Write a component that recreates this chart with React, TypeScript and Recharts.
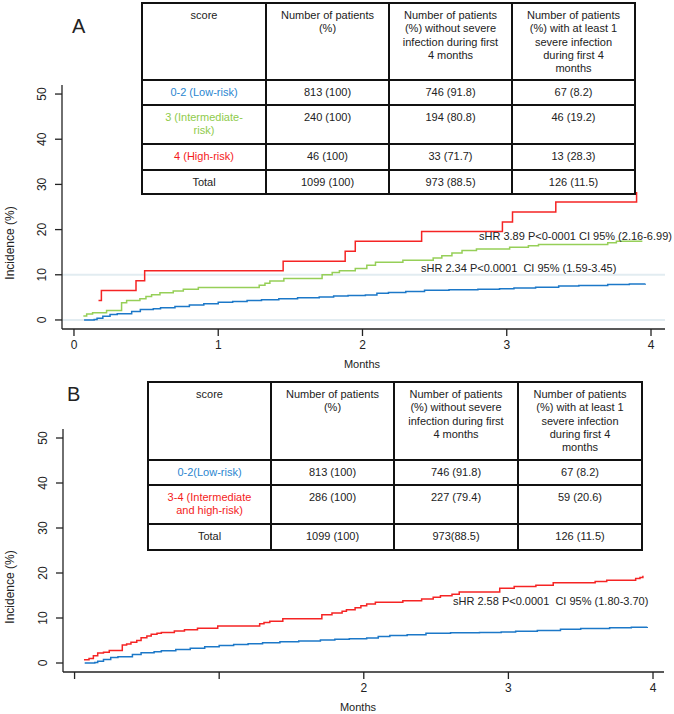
import React from "react"
import { LineChart, Line, XAxis, YAxis, ReferenceLine } from "recharts"

// cumulative incidence (%) by month
const lowRisk = [
  [0.07, 0], [0.14, 0.1], [0.16, 0.4], [0.2, 0.8], [0.25, 1.2], [0.3, 1.4], [0.4, 1.9],
  [0.46, 2.3], [0.55, 2.5], [0.6, 2.7], [0.7, 3.0], [0.8, 3.3], [0.9, 3.6], [1.0, 3.9],
  [1.1, 4.1], [1.2, 4.3], [1.3, 4.5], [1.42, 4.7], [1.55, 4.9], [1.7, 5.1], [1.8, 5.3],
  [1.9, 5.4], [2.02, 5.55], [2.1, 5.9], [2.18, 6.1], [2.3, 6.3], [2.43, 6.6], [2.6, 6.7],
  [2.8, 6.8], [2.95, 6.9], [3.05, 7.05], [3.2, 7.25], [3.36, 7.5], [3.5, 7.65], [3.7, 7.85],
  [3.85, 7.95], [3.96, 8.0],
]

const intermediateRisk = [
  [0.065, 0.9], [0.088, 1.3], [0.129, 1.6], [0.226, 2.1], [0.33, 3.8], [0.365, 4.3],
  [0.457, 4.7], [0.499, 5.2], [0.538, 5.6], [0.596, 6.0], [0.688, 6.4], [0.758, 6.8],
  [0.862, 7.2], [1.284, 7.7], [1.324, 8.1], [1.358, 8.6], [1.455, 9.2], [1.72, 10.0],
  [1.79, 10.5], [1.84, 10.9], [1.95, 11.4], [2.03, 12.1], [2.09, 12.8], [2.28, 13.2],
  [2.49, 13.7], [2.55, 14.2], [2.62, 14.8], [2.69, 15.4], [2.79, 15.7], [3.02, 16.1],
  [3.15, 16.4], [3.22, 16.7], [3.7, 17.1], [3.76, 17.4], [3.94, 17.4],
]

const highRisk = [
  [0.17, 4.3], [0.19, 6.5], [0.43, 8.7], [0.49, 10.9], [1.45, 13.0], [1.88, 15.2],
  [1.95, 17.4], [2.41, 19.6], [2.97, 21.7], [3.04, 23.9], [3.34, 26.1], [3.9, 28.3],
]

const intermediateHighRisk = [
  [0.065, 0.7], [0.1, 1.0], [0.13, 1.6], [0.16, 2.2], [0.2, 2.4], [0.24, 2.8], [0.33, 4.0],
  [0.36, 4.2], [0.39, 4.6], [0.43, 5.0], [0.46, 5.6], [0.5, 6.0], [0.53, 6.4], [0.57, 6.6],
  [0.6, 6.8], [0.69, 7.1], [0.76, 7.4], [0.85, 7.7], [0.99, 8.2], [1.28, 8.7], [1.31, 9.0],
  [1.35, 9.3], [1.44, 9.85], [1.71, 10.7], [1.78, 11.1], [1.85, 11.5], [1.88, 11.85],
  [1.94, 12.3], [1.98, 12.7], [2.02, 13.1], [2.08, 13.5], [2.27, 13.85], [2.4, 14.2],
  [2.48, 14.6], [2.53, 14.96], [2.61, 15.3], [2.66, 15.8], [2.94, 16.6], [3.04, 17.0],
  [3.19, 17.3], [3.31, 17.85], [3.6, 18.1], [3.68, 18.4], [3.88, 18.8], [3.91, 19.0],
  [3.93, 19.4],
]

const yTicks = [0, 10, 20, 30, 40, 50]
const xTicks = [0, 1, 2, 3, 4]

const tableHeader = [
  "score",
  "Number of patients\n(%)",
  "Number of patients\n(%) without severe\ninfection during first\n4 months",
  "Number of patients\n(%) with at least 1\nsevere infection\nduring first 4\nmonths",
]

const rowsA = [
  ["0-2 (Low-risk)", "813 (100)", "746 (91.8)", "67 (8.2)"],
  ["3 (Intermediate-\nrisk)", "240 (100)", "194 (80.8)", "46 (19.2)"],
  ["4 (High-risk)", "46 (100)", "33 (71.7)", "13 (28.3)"],
  ["Total", "1099 (100)", "973 (88.5)", "126 (11.5)"],
]
const rowColorsA = ["#2a86d0", "#8fcb4c", "#f41c1c", "#222"]

const rowsB = [
  ["0-2(Low-risk)", "813 (100)", "746 (91.8)", "67 (8.2)"],
  ["3-4 (Intermediate\nand high-risk)", "286 (100)", "227 (79.4)", "59 (20.6)"],
  ["Total", "1099 (100)", "973(88.5)", "126 (11.5)"],
]
const rowColorsB = ["#2a86d0", "#f41c1c", "#222"]

const BLUE = "#1c78c8"
const GREEN = "#96cf58"
const RED = "#f52424"
const FONT = "'Liberation Sans', Arial, sans-serif"

const toPoints = (arr: number[][]) => arr.map(([x, y]) => ({ x, y }))

function YTick(props: any) {
  const { x, y, payload } = props
  const tx = x - 11
  return (
    <text x={tx} y={y} transform={`rotate(-90, ${tx}, ${y})`} textAnchor="middle"
      dominantBaseline="central" fontSize={12} fill="#222" fontFamily={FONT}>
      {payload.value}
    </text>
  )
}

function makeXTick(hide: number[]) {
  return function XTick(props: any) {
    const { x, y, payload } = props
    if (hide.includes(payload.value)) return null
    return (
      <text x={x} y={y + 7} textAnchor="middle" dominantBaseline="central"
        fontSize={12} fill="#222" fontFamily={FONT}>
        {payload.value}
      </text>
    )
  }
}

function RiskTable({ rows, colors, left, top, colW, rowH }: any) {
  return (
    <table style={{
      position: "absolute", left, top, borderCollapse: "collapse",
      fontFamily: FONT, fontSize: 11, color: "#222", tableLayout: "fixed",
      background: "#fff",
    }}>
      <tbody>
        {[tableHeader, ...rows].map((r: string[], i: number) => (
          <tr key={i} style={{ height: rowH[i] }}>
            {r.map((c, j) => (
              <td key={j} style={{
                width: colW[j], border: "2px solid #111", textAlign: "center",
                verticalAlign: "top", padding: "5px 2px 0 2px", lineHeight: "13.3px",
                whiteSpace: "pre", boxSizing: "border-box",
                color: i > 0 && j === 0 ? colors[i - 1] : "#222",
              }}>{c}</td>
            ))}
          </tr>
        ))}
      </tbody>
    </table>
  )
}

const txt = (s: React.CSSProperties): React.CSSProperties => ({
  position: "absolute", fontFamily: FONT, color: "#222", whiteSpace: "pre", lineHeight: 1, ...s,
})

export default function App() {
  return (
    <div style={{ position: "absolute", left: 0, top: 0, width: 674, height: 714, background: "#fff", overflow: "hidden" }}>
      {/* Panel A */}
      <div style={{ position: "absolute", left: 0, top: 0 }}>
        <LineChart width={674} height={375} margin={{ top: 85, right: 9, bottom: 0, left: 0 }}>
          <XAxis type="number" dataKey="x" domain={[-0.083, 4.097]} ticks={xTicks} interval={0}
            height={46} stroke="#222" strokeWidth={1.3} tickSize={7} tick={makeXTick([])} />
          <YAxis type="number" dataKey="y" domain={[-2, 52]} ticks={yTicks} interval={0}
            width={62} stroke="#222" strokeWidth={1.3} tickSize={7} tick={<YTick />} />
          <ReferenceLine y={0} stroke="#e2ecf1" strokeWidth={2} />
          <ReferenceLine y={10} stroke="#e2ecf1" strokeWidth={2} />
          <Line data={toPoints(lowRisk)} dataKey="y" type="stepAfter" stroke={BLUE} strokeWidth={1.5}
            dot={false} activeDot={false} isAnimationActive={false} />
          <Line data={toPoints(intermediateRisk)} dataKey="y" type="stepAfter" stroke={GREEN} strokeWidth={1.5}
            dot={false} activeDot={false} isAnimationActive={false} />
          <Line data={toPoints(highRisk)} dataKey="y" type="stepAfter" stroke={RED} strokeWidth={1.5}
            dot={false} activeDot={false} isAnimationActive={false} />
        </LineChart>
      </div>
      <RiskTable rows={rowsA} colors={rowColorsA} left={141} top={2}
        colW={[124, 123, 123, 123]} rowH={[77, 25, 39, 26, 24]} />
      <div style={txt({ left: 72, top: 16, fontSize: 20 })}>A</div>
      <div style={txt({ left: 479, top: 231, fontSize: 11 })}>sHR 3.89 P&lt;0-0001 CI 95% (2.16-6.99)</div>
      <div style={txt({ left: 421, top: 263, fontSize: 11 })}>sHR 2.34 P&lt;0.0001  CI 95% (1.59-3.45)</div>
      <div style={txt({ left: 362, top: 364, fontSize: 11, transform: "translate(-50%, -50%)" })}>Months</div>
      <div style={txt({ left: 10, top: 243, fontSize: 12, transform: "translate(-50%, -50%) rotate(-90deg)" })}>Incidence (%)</div>

      {/* Panel B */}
      <div style={{ position: "absolute", left: 0, top: 375 }}>
        <LineChart width={674} height={339} margin={{ top: 54, right: 10, bottom: 0, left: 0 }}>
          <XAxis type="number" dataKey="x" domain={[-0.08, 4.076]} ticks={xTicks} interval={0}
            height={42} stroke="#222" strokeWidth={1.3} tickSize={7} tick={makeXTick([0, 1])} />
          <YAxis type="number" dataKey="y" domain={[-2, 52]} ticks={yTicks} interval={0}
            width={63} stroke="#222" strokeWidth={1.3} tickSize={7} tick={<YTick />} />
          <Line data={toPoints(lowRisk)} dataKey="y" type="stepAfter" stroke={BLUE} strokeWidth={1.5}
            dot={false} activeDot={false} isAnimationActive={false} />
          <Line data={toPoints(intermediateHighRisk)} dataKey="y" type="stepAfter" stroke={RED} strokeWidth={1.5}
            dot={false} activeDot={false} isAnimationActive={false} />
        </LineChart>
      </div>
      <RiskTable rows={rowsB} colors={rowColorsB} left={147} top={381}
        colW={[123, 123, 124, 124]} rowH={[78, 25, 39, 26]} />
      <div style={txt({ left: 67, top: 384, fontSize: 20 })}>B</div>
      <div style={txt({ left: 453, top: 596, fontSize: 11 })}>sHR 2.58 P&lt;0.0001  CI 95% (1.80-3.70)</div>
      <div style={txt({ left: 358, top: 707, fontSize: 11, transform: "translate(-50%, -50%)" })}>Months</div>
      <div style={txt({ left: 10, top: 587, fontSize: 12, transform: "translate(-50%, -50%) rotate(-90deg)" })}>Incidence (%)</div>
    </div>
  )
}
